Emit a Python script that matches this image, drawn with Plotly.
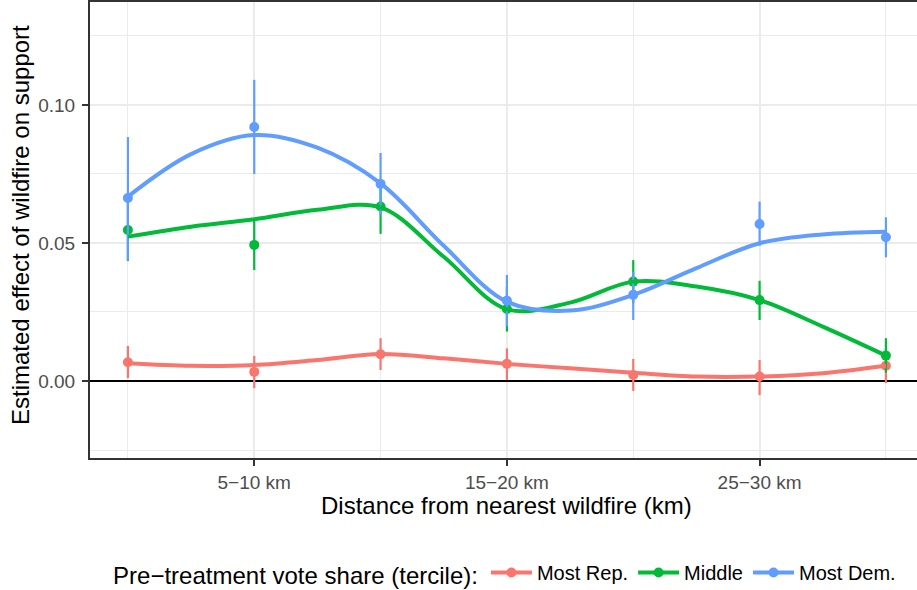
import plotly.graph_objects as go

# Distance bins (midpoint, km)
dist_mid = [2.5, 7.5, 12.5, 17.5, 22.5, 27.5, 32.5]
tick_vals = [7.5, 17.5, 27.5]
tick_text = ["5\u221210 km", "15\u221220 km", "25\u221230 km"]

groups = ["Most Rep.", "Middle", "Most Dem."]
colors = ["#F8766D", "#00BA38", "#619CFF"]

# Point estimates and confidence bounds by tercile
rep_est = [0.0068, 0.0033, 0.0097, 0.0062, 0.0022, 0.0016, 0.0055]
rep_lo = [0.0010, -0.0026, 0.0040, 0.0004, -0.0036, -0.0051, -0.0008]
rep_hi = [0.0127, 0.0091, 0.0155, 0.0118, 0.0080, 0.0076, 0.0118]

mid_est = [0.0547, 0.0493, 0.0632, 0.0261, 0.0360, 0.0293, 0.0092]
mid_lo = [0.0435, 0.0402, 0.0533, 0.0179, 0.0282, 0.0221, 0.0030]
mid_hi = [0.0660, 0.0585, 0.0730, 0.0343, 0.0438, 0.0363, 0.0155]

dem_est = [0.0663, 0.0920, 0.0714, 0.0291, 0.0312, 0.0569, 0.0521]
dem_lo = [0.0438, 0.0750, 0.0602, 0.0198, 0.0221, 0.0490, 0.0448]
dem_hi = [0.0884, 0.1091, 0.0826, 0.0384, 0.0396, 0.0650, 0.0593]

# Smoothed trend values
smooth_x = [2.5, 5, 7.5, 10, 12.5, 15, 17.5, 20, 22.5, 25, 27.5, 30, 32.5]
rep_fit = [0.0064, 0.0055, 0.0058, 0.0076, 0.0098, 0.0082, 0.0062, 0.0046,
           0.0030, 0.0016, 0.0016, 0.0028, 0.0055]
mid_fit = [0.0523, 0.0559, 0.0586, 0.0620, 0.0629, 0.0450, 0.0260, 0.0284,
           0.0360, 0.0342, 0.0293, 0.0197, 0.0092]
dem_fit = [0.0668, 0.0822, 0.0891, 0.0845, 0.0716, 0.0490, 0.0287, 0.0255,
           0.0312, 0.0409, 0.0499, 0.0531, 0.0541]

est = [rep_est, mid_est, dem_est]
lo = [rep_lo, mid_lo, dem_lo]
hi = [rep_hi, mid_hi, dem_hi]
fits = [rep_fit, mid_fit, dem_fit]

fig = go.Figure()

# points with error bars
for g, c, e, l, h in zip(groups, colors, est, lo, hi):
    fig.add_trace(go.Scatter(
        x=dist_mid, y=e, mode="markers",
        marker=dict(color=c, size=10),
        error_y=dict(type="data", symmetric=False,
                     array=[b - a for a, b in zip(e, h)],
                     arrayminus=[a - b for a, b in zip(e, l)],
                     color=c, thickness=2.2, width=0),
        showlegend=False, hoverinfo="skip",
    ))

# smoothed curves
for g, c, f in zip(groups, colors, fits):
    fig.add_trace(go.Scatter(
        x=smooth_x, y=f, mode="lines",
        line=dict(color=c, width=4, shape="spline", smoothing=1.0),
        showlegend=False, hoverinfo="skip",
    ))

# legend keys
for g, c in zip(groups, colors):
    fig.add_trace(go.Scatter(
        x=[None], y=[None], mode="lines+markers", name=g,
        line=dict(color=c, width=4), marker=dict(color=c, size=10),
    ))

axis_font = dict(family="Liberation Sans, Arial, sans-serif", size=19, color="#4D4D4D")

fig.update_layout(
    width=917, height=590,
    margin=dict(l=90, r=0, t=2, b=132, autoexpand=False),
    paper_bgcolor="white", plot_bgcolor="white",
    font=dict(family="Liberation Sans, Arial, sans-serif", color="black"),
    xaxis=dict(
        range=[1.0, 33.73], tickmode="array", tickvals=tick_vals, ticktext=tick_text,
        tickfont=axis_font, ticks="outside", ticklen=6, tickwidth=1.5, tickcolor="#333333",
        showgrid=True, gridcolor="#EBEBEB", gridwidth=2,
        minor=dict(tickmode="array", tickvals=[2.5, 12.5, 22.5, 32.5],
                   showgrid=True, gridcolor="#EBEBEB", gridwidth=1, ticks=""),
        showline=True, linecolor="#333333", linewidth=2, mirror=True,
        zeroline=False,
    ),
    yaxis=dict(
        range=[-0.0279, 0.1373], tickmode="array", tickvals=[0, 0.05, 0.10],
        ticktext=["0.00", "0.05", "0.10"],
        tickfont=axis_font, ticks="outside", ticklen=6, tickwidth=1.5, tickcolor="#333333",
        ticklabelstandoff=3,
        showgrid=True, gridcolor="#EBEBEB", gridwidth=2,
        minor=dict(tickmode="array", tickvals=[-0.025, 0.025, 0.075, 0.125],
                   showgrid=True, gridcolor="#EBEBEB", gridwidth=1, ticks=""),
        showline=True, linecolor="#333333", linewidth=2, mirror=False,
        zeroline=True, zerolinecolor="black", zerolinewidth=2,
    ),
    legend=dict(
        orientation="h", x=0.0255, xanchor="left", y=(458 - 574) / 456, yanchor="middle",
        itemwidth=41,
        font=dict(size=20, color="black"),
        title=dict(text="Pre\u2212treatment vote share (tercile):", side="left",
                   font=dict(size=24, color="black")),
        bgcolor="rgba(0,0,0,0)",
    ),
    annotations=[
        dict(text="Estimated effect of wildfire on support", textangle=-90,
             xref="paper", yref="paper", x=-70 / 827, y=(458 - 225) / 456,
             xanchor="center", yanchor="middle", showarrow=False,
             font=dict(size=24, color="black")),
        dict(text="Distance from nearest wildfire (km)",
             xref="x", yref="paper", x=17.5, y=(458 - 505) / 456,
             xanchor="center", yanchor="middle", showarrow=False,
             font=dict(size=24, color="black")),
    ],
)

fig.write_html("out.html")
